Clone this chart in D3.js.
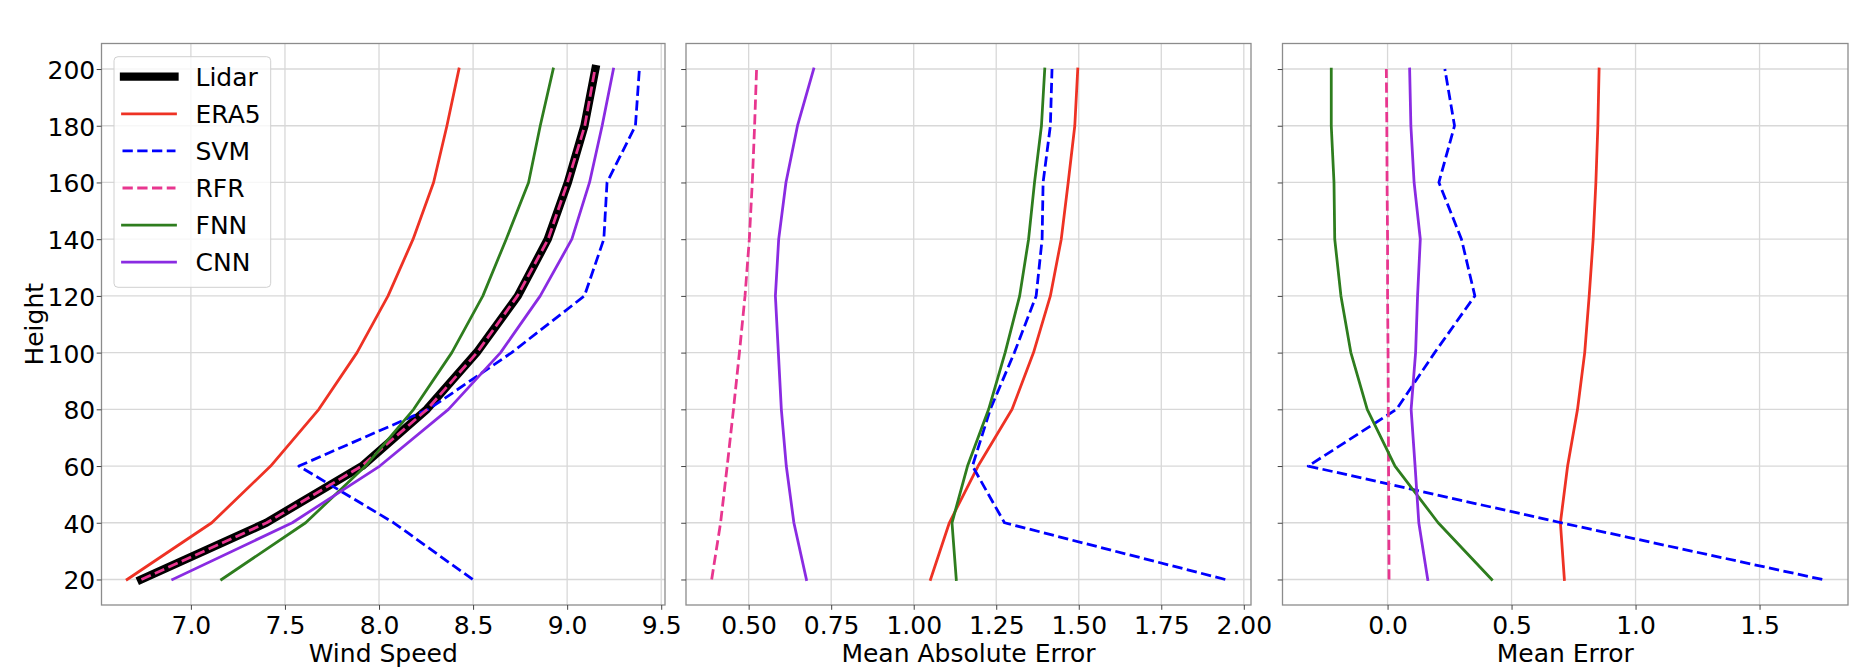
<!DOCTYPE html>
<html><head><meta charset="utf-8">
<script src="https://cdn.jsdelivr.net/npm/d3@7"></script>
<style>body{margin:0;background:#fff}svg{display:block}text{font-family:"DejaVu Sans",sans-serif;fill:#000}</style>
</head><body><svg id="c" width="1876" height="672"></svg>
<script>
// ---- data ----
const heights = [20, 40, 60, 80, 100, 120, 140, 160, 180, 200];
const seriesNames = ["Lidar", "ERA5", "SVM", "RFR", "FNN", "CNN"];

const wsLidar = [6.735, 7.401, 7.910, 8.254, 8.519, 8.738, 8.897, 9.004, 9.092, 9.150];
const wsERA5  = [6.661, 7.111, 7.424, 7.680, 7.883, 8.048, 8.181, 8.290, 8.361, 8.425];
const wsSVM   = [8.498, 8.078, 7.574, 8.263, 8.705, 9.092, 9.195, 9.212, 9.363, 9.384];
const wsRFR   = [6.737, 7.403, 7.908, 8.256, 8.521, 8.736, 8.899, 9.002, 9.094, 9.148];
const wsFNN   = [7.163, 7.610, 7.928, 8.184, 8.387, 8.552, 8.676, 8.795, 8.857, 8.926];
const wsCNN   = [6.903, 7.539, 8.004, 8.369, 8.646, 8.857, 9.025, 9.119, 9.186, 9.246];

const maeERA5 = [1.051, 1.108, 1.195, 1.298, 1.363, 1.414, 1.447, 1.468, 1.488, 1.497];
const maeSVM  = [1.944, 1.275, 1.178, 1.232, 1.305, 1.371, 1.389, 1.392, 1.414, 1.419];
const maeRFR  = [0.388, 0.415, 0.435, 0.454, 0.472, 0.489, 0.502, 0.511, 0.518, 0.524];
const maeFNN  = [1.129, 1.116, 1.163, 1.227, 1.277, 1.321, 1.348, 1.366, 1.387, 1.397];
const maeCNN  = [0.675, 0.637, 0.614, 0.599, 0.590, 0.581, 0.591, 0.613, 0.648, 0.697];

const meERA5 = [0.713, 0.697, 0.726, 0.766, 0.795, 0.813, 0.829, 0.840, 0.848, 0.853];
const meSVM  = [1.753, 0.700, -0.320, 0.036, 0.190, 0.352, 0.298, 0.207, 0.270, 0.231];
const meRFR  = [0.006, 0.005, 0.004, 0.003, 0.002, 0.000, 0.000, -0.002, -0.003, -0.005];
const meFNN  = [0.420, 0.204, 0.030, -0.082, -0.148, -0.188, -0.213, -0.216, -0.227, -0.227];
const meCNN  = [0.162, 0.126, 0.111, 0.095, 0.113, 0.121, 0.132, 0.107, 0.094, 0.089];

const yTicks = [20, 40, 60, 80, 100, 120, 140, 160, 180, 200];
const yTickLabels = ["20", "40", "60", "80", "100", "120", "140", "160", "180", "200"];
const x1Ticks = [7.0, 7.5, 8.0, 8.5, 9.0, 9.5];
const x1TickLabels = ["7.0", "7.5", "8.0", "8.5", "9.0", "9.5"];
const x2Ticks = [0.5, 0.75, 1.0, 1.25, 1.5, 1.75, 2.0];
const x2TickLabels = ["0.50", "0.75", "1.00", "1.25", "1.50", "1.75", "2.00"];
const x3Ticks = [0.0, 0.5, 1.0, 1.5];
const x3TickLabels = ["0.0", "0.5", "1.0", "1.5"];
const xLabels = ["Wind Speed", "Mean Absolute Error", "Mean Error"];
const yLabel = "Height";

// ---- styles ----
const style = {
  Lidar: {color: "#000000", width: 8.3, dash: null},
  ERA5:  {color: "#ee3224", width: 2.78, dash: null},
  SVM:   {color: "#0000ff", width: 2.78, dash: "10.3,4.45"},
  RFR:   {color: "#e8368f", width: 2.78, dash: "10.3,4.45"},
  FNN:   {color: "#2e7d1e", width: 2.78, dash: null},
  CNN:   {color: "#8a2be2", width: 2.78, dash: null}
};

const panels = [
  {x0: 101.5, x1: 665, series: {Lidar: wsLidar, ERA5: wsERA5, SVM: wsSVM, RFR: wsRFR, FNN: wsFNN, CNN: wsCNN},
   ticks: x1Ticks, labels: x1TickLabels, xlabel: xLabels[0], showY: true},
  {x0: 686, x1: 1251, series: {ERA5: maeERA5, SVM: maeSVM, RFR: maeRFR, FNN: maeFNN, CNN: maeCNN},
   ticks: x2Ticks, labels: x2TickLabels, xlabel: xLabels[1], showY: false},
  {x0: 1282.5, x1: 1848, series: {ERA5: meERA5, SVM: meSVM, RFR: meRFR, FNN: meFNN, CNN: meCNN},
   ticks: x3Ticks, labels: x3TickLabels, xlabel: xLabels[2], showY: false}
];

const plotTop = 43.5, plotBottom = 605;
const svg = d3.select("#c");
const FS = 25;

const yExt = d3.extent(heights), yPad = (yExt[1] - yExt[0]) * 0.05;
const y = d3.scaleLinear().domain([yExt[0] - yPad, yExt[1] + yPad]).range([plotBottom, plotTop]);

panels.forEach((p, pi) => {
  const all = Object.values(p.series).flat();
  const ext = d3.extent(all), pad = (ext[1] - ext[0]) * 0.05;
  const x = d3.scaleLinear().domain([ext[0] - pad, ext[1] + pad]).range([p.x0, p.x1]);
  const g = svg.append("g");
  const clipId = "clip" + pi;
  svg.append("clipPath").attr("id", clipId).append("rect")
    .attr("x", p.x0).attr("y", plotTop).attr("width", p.x1 - p.x0).attr("height", plotBottom - plotTop);

  // grid
  g.append("g").selectAll("line").data(p.ticks).join("line")
    .attr("x1", d => x(d)).attr("x2", d => x(d)).attr("y1", plotTop).attr("y2", plotBottom)
    .attr("stroke", "#d8d8d8").attr("stroke-width", 1.3);
  g.append("g").selectAll("line").data(yTicks).join("line")
    .attr("x1", p.x0).attr("x2", p.x1).attr("y1", d => y(d)).attr("y2", d => y(d))
    .attr("stroke", "#d8d8d8").attr("stroke-width", 1.3);

  // lines
  const line = d3.line().x(d => x(d[0])).y(d => y(d[1]));
  const lg = g.append("g").attr("clip-path", `url(#${clipId})`);
  seriesNames.forEach(name => {
    if (!p.series[name]) return;
    const s = style[name];
    const pts = p.series[name].map((v, i) => [v, heights[i]]);
    lg.append("path").attr("d", line(pts)).attr("fill", "none")
      .attr("stroke", s.color).attr("stroke-width", s.width)
      .attr("stroke-dasharray", s.dash)
      .attr("stroke-linecap", s.dash ? "butt" : "square")
      .attr("stroke-linejoin", "round");
  });

  // frame
  g.append("rect").attr("x", p.x0).attr("y", plotTop).attr("width", p.x1 - p.x0).attr("height", plotBottom - plotTop)
    .attr("fill", "none").attr("stroke", "#8c8c8c").attr("stroke-width", 1.3);

  // x axis ticks
  const xa = d3.axisBottom(x).tickValues(p.ticks).tickFormat((d, i) => p.labels[i]).tickSize(4.8).tickPadding(5);
  const xg = g.append("g").attr("transform", `translate(0,${plotBottom})`).call(xa);
  xg.select(".domain").remove();
  xg.selectAll(".tick line").attr("stroke", "#444").attr("stroke-width", 1);
  xg.selectAll(".tick text").attr("font-size", FS).attr("font-family", "DejaVu Sans").attr("fill", "#000")
    .attr("dy", "0.75em");

  // y axis ticks
  const ya = d3.axisLeft(y).tickValues(yTicks).tickFormat((d, i) => p.showY ? yTickLabels[i] : "").tickSize(4.8).tickPadding(1.5);
  const yg = g.append("g").attr("transform", `translate(${p.x0},0)`).call(ya);
  yg.select(".domain").remove();
  yg.selectAll(".tick line").attr("stroke", "#444").attr("stroke-width", 1);
  yg.selectAll(".tick text").attr("font-size", FS).attr("font-family", "DejaVu Sans").attr("fill", "#000")
    .attr("dy", "0.38em");

  // x label
  g.append("text").attr("x", (p.x0 + p.x1) / 2).attr("y", 662).attr("text-anchor", "middle")
    .attr("font-size", FS).text(p.xlabel);

  if (p.showY) {
    g.append("text").attr("transform", `translate(43,${(plotTop + plotBottom) / 2}) rotate(-90)`)
      .attr("text-anchor", "middle").attr("font-size", FS).text(yLabel);

    // legend
    const lgd = g.append("g");
    lgd.append("rect").attr("x", 114).attr("y", 56.7).attr("width", 156.7).attr("height", 230.6)
      .attr("rx", 4).attr("fill", "#fff").attr("fill-opacity", 0.8).attr("stroke", "#d0d0d0").attr("stroke-width", 1);
    seriesNames.forEach((name, i) => {
      const s = style[name];
      const ly = 76.7 + i * 37.1;
      lgd.append("line").attr("x1", name === "Lidar" ? 124 : 122.5).attr("x2", name === "Lidar" ? 174.5 : 175.5)
        .attr("y1", ly).attr("y2", ly)
        .attr("stroke", s.color).attr("stroke-width", s.width).attr("stroke-dasharray", s.dash)
        .attr("stroke-linecap", s.dash ? "butt" : "square");
      lgd.append("text").attr("x", 195.5).attr("y", ly).attr("dy", "0.36em").attr("font-size", FS).text(name);
    });
  }
});
</script></body></html>
